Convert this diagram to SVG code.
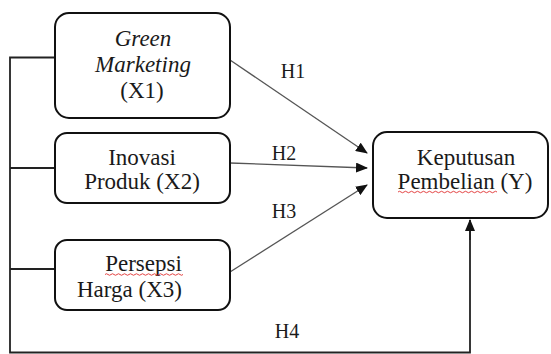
<svg xmlns="http://www.w3.org/2000/svg" width="551" height="354" viewBox="0 0 551 354">
<style>
.box{fill:#fff;stroke:#111;stroke-width:2}
text{font-family:'Liberation Serif','Times New Roman','DejaVu Serif',serif;fill:#1a1a1a;text-anchor:middle}
.t{font-size:23px}
.lbl{font-size:20px}
.arr{stroke:#555;stroke-width:1.3;fill:none}
.frame{stroke:#222;stroke-width:1.8;fill:none}
.wavy{stroke:#e03030;stroke-width:0.9;fill:none}
</style>
<defs>
<marker id="ah" markerWidth="12" markerHeight="10" refX="11" refY="5" orient="auto" markerUnits="userSpaceOnUse">
<path d="M0,0 L12,5 L0,10 Z" fill="#111"/>
</marker>
</defs>
<g id="connectors">
<path class="frame" d="M55,57.5 H10 V352.5 H470 V229"/>
<path class="frame" d="M10,168 H55"/>
<path class="frame" d="M10,269 H55"/>
<line class="frame" x1="470" y1="240" x2="470" y2="220" marker-end="url(#ah)"/>
<line class="arr" x1="230" y1="60" x2="367" y2="153" marker-end="url(#ah)"/>
<line class="arr" x1="230" y1="163" x2="367" y2="168" marker-end="url(#ah)"/>
<line class="arr" x1="230" y1="272" x2="367" y2="185" marker-end="url(#ah)"/>
<text class="lbl" x="293" y="78">H1</text>
<text class="lbl" x="284" y="160">H2</text>
<text class="lbl" x="284" y="218">H3</text>
<text class="lbl" x="287" y="338">H4</text>
</g>
<g id="x1">
<rect class="box" x="55" y="13" width="175" height="105" rx="14"/>
<text class="t" x="143" y="46" font-style="italic">Green</text>
<text class="t" x="143" y="72" font-style="italic">Marketing</text>
<text class="t" x="142" y="98">(X1)</text>
</g>
<g id="x2">
<rect class="box" x="55" y="133" width="175" height="70" rx="12"/>
<text class="t" x="142" y="165">Inovasi</text>
<text class="t" x="142" y="189">Produk (X2)</text>
</g>
<g id="x3">
<rect class="box" x="55" y="240" width="175" height="70" rx="12"/>
<text class="t" x="143.5" y="271">Persepsi</text>
<path class="wavy" d="M105,274.5 q1.5,-1.5 3,0 t3,0 t3,0 t3,0 t3,0 t3,0 t3,0 t3,0 t3,0 t3,0 t3,0 t3,0 t3,0 t3,0 t3,0 t3,0 t3,0 t3,0 t3,0 t3,0 t3,0 t3,0 t3,0 t3,0 t3,0 t3,0"/>
<text class="t" x="77" y="297" style="text-anchor:start">Harga (X3)</text>
</g>
<g id="y">
<rect class="box" x="373" y="132" width="175" height="86" rx="14"/>
<text class="t" x="466" y="165">Keputusan</text>
<text class="t" x="465" y="189">Pembelian (Y)</text>
<path class="wavy" d="M398,192 q1.5,-1.5 3,0 t3,0 t3,0 t3,0 t3,0 t3,0 t3,0 t3,0 t3,0 t3,0 t3,0 t3,0 t3,0 t3,0 t3,0 t3,0 t3,0 t3,0 t3,0 t3,0 t3,0 t3,0 t3,0 t3,0 t3,0 t3,0 t3,0 t3,0 t3,0 t3,0 t3,0 t3,0 t3,0"/>
</g>
</svg>
